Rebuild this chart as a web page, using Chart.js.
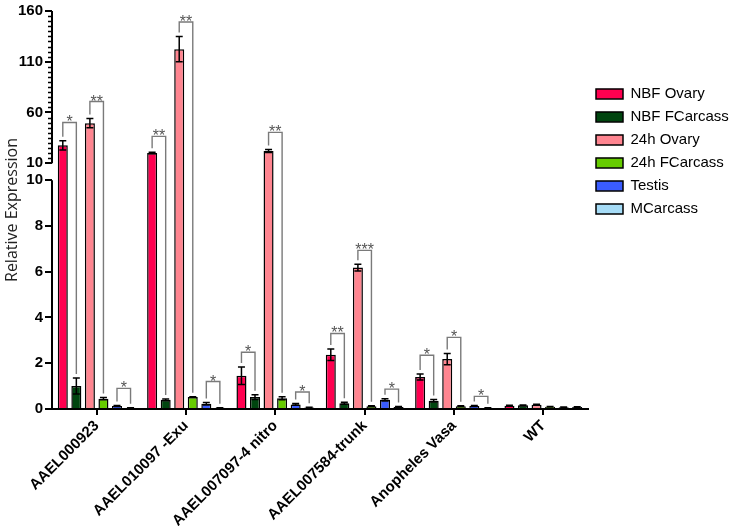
<!DOCTYPE html>
<html>
<head>
<meta charset="utf-8">
<script src="https://cdn.jsdelivr.net/npm/chart.js@4.4.1/dist/chart.umd.min.js"></script>
<style>
    html, body { margin: 0; padding: 0; background: #fff; }
</style>
</head>
<body>
<canvas id="expressionChart" width="736" height="526"></canvas>
<script>
// ---- data ----
var categories = ['AAEL000923', 'AAEL010097 -Exu', 'AAEL007097-4 nitro', 'AAEL007584-trunk', 'Anopheles Vasa', 'WT'];
var seriesNames = ['NBF Ovary', 'NBF FCarcass', '24h Ovary', '24h FCarcass', 'Testis', 'MCarcass'];

var nbfOvary     = [27.6, 20.1, 1.45, 2.37, 1.40, 0.14];
var nbfFCarcass  = [1.00, 0.40, 0.52, 0.25, 0.36, 0.16];
var ovary24h     = [49.5, 122.4, 22.0, 6.18, 2.18, 0.19];
var fCarcass24h  = [0.45, 0.52, 0.47, 0.12, 0.12, 0.10];
var testis       = [0.13, 0.23, 0.20, 0.40, 0.13, 0.08];
var mCarcass     = [0.05, 0.05, 0.07, 0.09, 0.04, 0.09];

var nbfOvaryErr    = [4.5, 0.8, 0.38, 0.25, 0.13, 0.02];
var nbfFCarcassErr = [0.35, 0.04, 0.10, 0.04, 0.05, 0.02];
var ovary24hErr    = [4.5, 12.5, 1.5, 0.15, 0.25, 0.02];
var fCarcass24hErr = [0.05, 0.02, 0.07, 0.02, 0.02, 0.01];
var testisErr      = [0.02, 0.05, 0.04, 0.05, 0.02, 0.01];
var mCarcassErr    = [0.01, 0.01, 0.01, 0.02, 0.01, 0.01];

var lowTicks  = [0, 2, 4, 6, 8, 10];
var highTicks = [10, 60, 110, 160];
var breakValue = 10;

// [category, series a, series b, bracket level, label]
var brackets = [
    [0, 0, 1, 50.2, '*'],  [0, 2, 3, 70.8, '**'],  [0, 4, 5, 0.90, '*'],
    [1, 0, 1, 36.5, '**'], [1, 2, 3, 149.2, '**'], [1, 4, 5, 1.20, '*'],
    [2, 0, 1, 2.48, '*'],  [2, 2, 3, 40.4, '**'],  [2, 4, 5, 0.74, '*'],
    [3, 0, 1, 3.30, '**'], [3, 2, 3, 6.93, '***'], [3, 4, 5, 0.87, '*'],
    [4, 0, 1, 2.35, '*'],  [4, 2, 3, 3.13, '*'],   [4, 4, 5, 0.55, '*']
];

var seriesValues = [nbfOvary, nbfFCarcass, ovary24h, fCarcass24h, testis, mCarcass];
var seriesErrors = [nbfOvaryErr, nbfFCarcassErr, ovary24hErr, fCarcass24hErr, testisErr, mCarcassErr];
var seriesColors = ['#ff0050', '#00450f', '#ff8590', '#66cc00', '#3a5cff', '#a6dcf7'];

// ---- broken y axis: 0-10 in the lower part, 10-160 above a small gap ----
var lowShare = 0.575;
var gapShare = 0.0425;

class BrokenLinearScale extends Chart.LinearScale {
    buildTicks() {
        var ticks = lowTicks.map(function(v) { return { value: v }; });
        highTicks.forEach(function(v) { ticks.push({ value: v, upper: true }); });
        return ticks;
    }
    valueToDecimal(v, upper) {
        if (v < breakValue || (v === breakValue && !upper)) {
            return v / breakValue * lowShare;
        }
        return lowShare + gapShare + (v - breakValue) / (this.max - breakValue) * (1 - lowShare - gapShare);
    }
    getPixelForValue(v) {
        if (v === null || v === undefined || isNaN(v)) return NaN;
        return this.getPixelForDecimal(this.valueToDecimal(v, false));
    }
    getPixelForTick(index) {
        var t = this.ticks[index];
        if (!t) return null;
        return this.getPixelForDecimal(this.valueToDecimal(t.value, t.upper));
    }
    getValueForPixel(px) {
        var d = this.getDecimalForPixel(px);
        if (d <= lowShare) return d / lowShare * breakValue;
        return breakValue + Math.max(0, d - lowShare - gapShare) / (1 - lowShare - gapShare) * (this.max - breakValue);
    }
}
BrokenLinearScale.id = 'brokenLinear';
BrokenLinearScale.defaults = Chart.LinearScale.defaults;
Chart.register(BrokenLinearScale);

// error bars, significance brackets, split spine and y tick marks
var annotationsPlugin = {
    id: 'annotations',
    afterDatasetsDraw: function(chart) {
        var ctx = chart.ctx;
        var y = chart.scales.y;
        var area = chart.chartArea;

        ctx.save();
        // error bars
        ctx.strokeStyle = '#000';
        ctx.lineWidth = 1.5;
        chart.data.datasets.forEach(function(ds, i) {
            chart.getDatasetMeta(i).data.forEach(function(bar, j) {
                var v = ds.data[j], e = seriesErrors[i][j];
                var top = y.getPixelForValue(v + e);
                var bot = y.getPixelForValue(Math.max(0, v - e));
                ctx.beginPath();
                ctx.moveTo(bar.x, top); ctx.lineTo(bar.x, bot);
                ctx.moveTo(bar.x - 3.5, top); ctx.lineTo(bar.x + 3.5, top);
                ctx.moveTo(bar.x - 3.5, bot); ctx.lineTo(bar.x + 3.5, bot);
                ctx.stroke();
            });
        });

        // brackets
        ctx.strokeStyle = '#7a7a7a';
        ctx.fillStyle = '#555';
        ctx.lineWidth = 1.4;
        ctx.font = '16px "Liberation Sans", Arial, sans-serif';
        ctx.textAlign = 'center';
        ctx.textBaseline = 'alphabetic';
        brackets.forEach(function(b) {
            var g = b[0], a = b[1], c = b[2];
            var xa = chart.getDatasetMeta(a).data[g].x;
            var xc = chart.getDatasetMeta(c).data[g].x;
            var ya = y.getPixelForValue(seriesValues[a][g] + seriesErrors[a][g]) - 4;
            var yc = y.getPixelForValue(seriesValues[c][g] + seriesErrors[c][g]) - 4;
            var yl = y.getPixelForValue(b[3]);
            ctx.beginPath();
            ctx.moveTo(xa, ya); ctx.lineTo(xa, yl); ctx.lineTo(xc, yl); ctx.lineTo(xc, yc);
            ctx.stroke();
            ctx.fillText(b[4], (xa + xc) / 2, yl + 5);
        });

        // y spine in two pieces
        ctx.strokeStyle = '#000';
        ctx.lineWidth = 2;
        var sx = area.left;
        var lowTop = y.getPixelForDecimal(lowShare);
        var highBottom = y.getPixelForDecimal(lowShare + gapShare);
        ctx.beginPath();
        ctx.moveTo(sx, y.getPixelForValue(0) + 1); ctx.lineTo(sx, lowTop);
        ctx.moveTo(sx, highBottom); ctx.lineTo(sx, y.getPixelForValue(highTicks[highTicks.length - 1]));
        ctx.stroke();

        // major tick marks
        ctx.beginPath();
        y.ticks.forEach(function(t, i) {
            var py = Math.round(y.getPixelForTick(i));
            ctx.moveTo(sx - 7, py); ctx.lineTo(sx, py);
        });
        ctx.stroke();

        // minor ticks on the upper part
        ctx.lineWidth = 1.5;
        ctx.beginPath();
        for (var v = breakValue + 5; v < highTicks[highTicks.length - 1]; v += 5) {
            if (highTicks.indexOf(v) >= 0) continue;
            var py = Math.round(y.getPixelForValue(v)) + 0.5;
            ctx.moveTo(sx - 4, py); ctx.lineTo(sx, py);
        }
        ctx.stroke();
        ctx.restore();
    }
};

var datasets = seriesNames.map(function(name, i) {
    return {
        label: name,
        data: seriesValues[i],
        backgroundColor: seriesColors[i],
        borderColor: '#000',
        borderWidth: 1.5,
        categoryPercentage: 0.91,
        barPercentage: 0.74
    };
});

var ctx = document.getElementById('expressionChart').getContext('2d');
new Chart(ctx, {
    type: 'bar',
    data: {
        labels: categories,
        datasets: datasets
    },
    options: {
        responsive: false,
        animation: false,
        devicePixelRatio: 1,
        layout: { padding: { top: 0, left: 0, right: 0, bottom: 0 } },
        plugins: {
            tooltip: { enabled: false },
            legend: {
                position: 'right',
                align: 'start',
                maxWidth: 148,
                title: { display: true, text: ' ', padding: { top: 64, bottom: 0 } },
                labels: {
                    boxWidth: 27,
                    boxHeight: 10,
                    padding: 8,
                    color: '#000',
                    font: { family: '"Liberation Sans", Arial, sans-serif', size: 15 }
                }
            }
        },
        scales: {
            x: {
                afterFit: function(scale) { scale.height = 117; },
                grid: { offset: false, drawOnChartArea: false, color: '#000', lineWidth: 2, tickLength: 6 },
                border: { color: '#000', width: 2 },
                ticks: {
                    autoSkip: false,
                    minRotation: 45,
                    maxRotation: 45,
                    padding: 2,
                    color: '#000',
                    font: { family: '"Liberation Sans", Arial, sans-serif', size: 15, weight: 'bold' }
                }
            },
            y: {
                type: 'brokenLinear',
                min: 0,
                max: 160,
                afterFit: function(scale) { scale.width = 52; },
                grid: { drawOnChartArea: false, color: '#000', lineWidth: 2, tickLength: 7 },
                border: { display: false },
                ticks: {
                    autoSkip: false,
                    padding: 2,
                    color: '#000',
                    font: { family: '"Liberation Sans", Arial, sans-serif', size: 15, weight: 'bold' },
                    callback: function(value) { return String(value); }
                },
                title: {
                    display: true,
                    text: 'Relative Expression',
                    color: '#222',
                    padding: { top: 3, bottom: 0 },
                    font: { family: '"Open Sans", sans-serif', size: 16 }
                }
            }
        }
    },
    plugins: [annotationsPlugin]
});
</script>
</body>
</html>
